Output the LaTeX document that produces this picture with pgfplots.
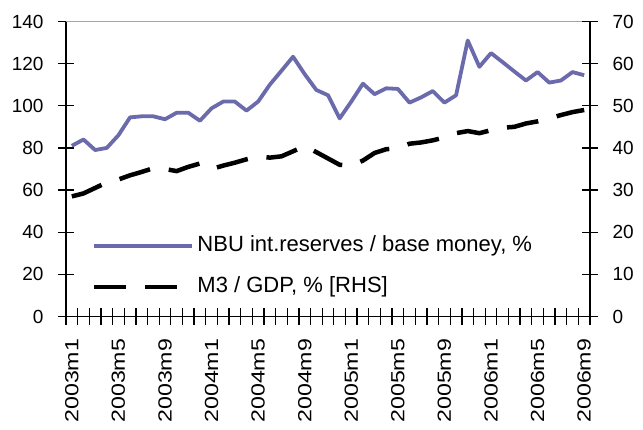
\documentclass[border=0pt]{standalone}
\usepackage{fontspec}
\setmainfont{Liberation Sans}
\usepackage{pgfplots}
\usepackage{pgfplotstable}
\pgfplotsset{compat=1.18}
\definecolor{nbublue}{RGB}{106,106,172}
\pgfplotstableread{
i v
0 81
1 84
2 79
3 80
4 86
5 94.5
6 95
7 95
8 93.6
9 96.7
10 96.7
11 92.9
12 98.8
13 102
14 102
15 97.7
16 102
17 110
18 116.6
19 123.3
20 115
21 107.5
22 105
23 94
24 102
25 110.5
26 105.5
27 108.3
28 108
29 101.5
30 104
31 107
32 101.5
33 105
34 131
35 118.5
36 125
37 120.7
38 116.3
39 112
40 116
41 111
42 112
43 116
44 114.5
}\bluedata
\pgfplotstableread{
i v
0 28.5
1 29.2
2 30.5
3 31.8
4 32.5
5 33.5
6 34.3
7 35.2
8 35
9 34.5
10 35.5
11 36.3
12 35
13 35.8
14 36.5
15 37.3
16 38
17 37.7
18 38
19 39.2
20 40.5
21 39
22 37.5
23 36
24 35.8
25 37
26 38.8
27 39.7
28 39.9
29 41
30 41.3
31 41.8
32 42.5
33 43.5
34 44
35 43.5
36 44.2
37 44.8
38 45
39 45.8
40 46.3
41 47
42 47.8
43 48.5
44 49
}\blackdata
\pgfplotsset{
  common/.style={
    at={(66bp,113.5bp)}, anchor=south west,
    scale only axis, width=524bp, height=295bp,
    xmin=-0.5, xmax=44.5,
    tick align=center, major tick length=16bp,
    tick style={black, line width=1.3bp},
    axis line style={black, line width=1.5bp, -},
    /pgf/number format/assume math mode=true,
    tick label style={font=\fontsize{19bp}{22bp}\selectfont},
    yticklabel shift=11bp,
  }
}
\begin{document}
\begin{tikzpicture}
\useasboundingbox (0,0) rectangle (643bp,430bp);
\begin{axis}[common,
  ymin=0, ymax=140,
  axis x line*=bottom, axis y line*=left,
  xtick={-0.5,0.5,...,44.5}, xticklabels={},
  extra x ticks={0,4,...,44},
  extra x tick labels={2003m1,2003m5,2003m9,2004m1,2004m5,2004m9,2005m1,2005m5,2005m9,2006m1,2006m5,2006m9},
  extra x tick style={major tick length=0pt},
  xticklabel style={rotate=90, anchor=east, xscale=1.22},
  xticklabel shift=18bp,
  ytick={0,20,...,140},
]
\draw[gray!70, line width=1bp] (rel axis cs:0,1) -- (rel axis cs:1,1);
\addplot[nbublue, line width=3.8bp, line join=round] table[x=i, y=v] {\bluedata};
\end{axis}
\begin{axis}[common,
  ymin=0, ymax=70,
  axis x line=none, axis y line*=right,
  ytick={0,10,...,70},
  legend image code/.code={\draw[#1, line cap=butt] (0bp,0bp) -- (98bp,0bp);},
  legend style={draw=none, fill=none, at={(rel axis cs:0.0496,0.2729)}, anchor=north west,
    inner sep=0pt, outer sep=0pt, row sep=21bp, column sep=3bp,
    font=\fontsize{22bp}{26bp}\selectfont,
    nodes={inner sep=0pt, text height=16bp, text depth=4bp}},
  legend cell align=left,
]
\addlegendimage{nbublue, line width=3.8bp}
\addlegendentry{NBU int.reserves / base money, \%}
\addplot[black, line width=4.5bp, dash pattern=on 32bp off 19bp, line cap=butt] table[x=i, y=v] {\blackdata};
\addlegendentry{M3 / GDP, \% [RHS]}
\end{axis}
\end{tikzpicture}
\end{document}
